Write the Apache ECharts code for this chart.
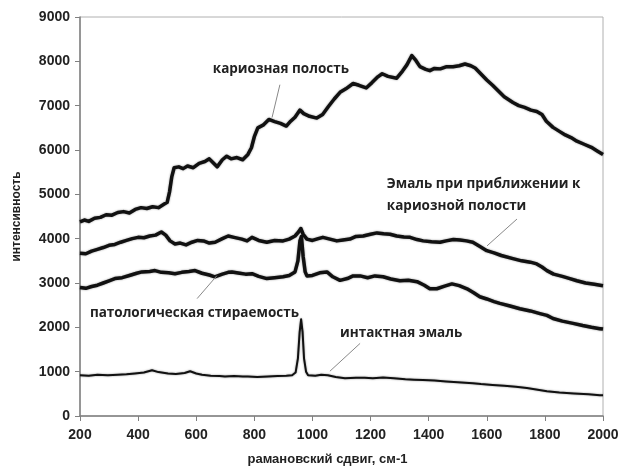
<!DOCTYPE html>
<html>
<head>
<meta charset="utf-8">
<script src="https://cdn.jsdelivr.net/npm/echarts@6/dist/echarts.min.js"></script>
<style>html,body{margin:0;padding:0;background:#fff}#c{width:624px;height:471px}</style>
</head>
<body>
<div id="c"></div>
<script>
// ---- data ----
const xTicks = [200, 400, 600, 800, 1000, 1200, 1400, 1600, 1800, 2000];
const yTicks = [0, 1000, 2000, 3000, 4000, 5000, 6000, 7000, 8000, 9000];

const cariesX = [200,215,230,250,270,290,310,330,350,370,390,410,430,450,470,490,500,508,516,524,540,555,570,590,610,630,645,660,672,690,705,720,740,760,778,790,800,812,830,850,870,890,910,925,940,957,970,990,1015,1035,1055,1075,1095,1115,1140,1160,1185,1205,1225,1240,1260,1290,1310,1325,1342,1356,1370,1390,1404,1420,1440,1462,1484,1505,1525,1545,1560,1575,1600,1620,1640,1660,1690,1710,1730,1752,1772,1790,1805,1828,1850,1870,1890,1910,1935,1960,1980,2000];
const cariesY = [4380,4420,4390,4460,4480,4540,4530,4590,4610,4580,4660,4700,4680,4720,4700,4780,4820,5050,5400,5600,5620,5580,5640,5600,5700,5740,5800,5700,5620,5780,5860,5800,5830,5780,5900,6050,6300,6500,6560,6690,6640,6600,6540,6650,6740,6900,6820,6760,6720,6800,6980,7150,7300,7380,7500,7460,7400,7520,7650,7720,7660,7620,7780,7920,8130,8020,7880,7820,7790,7840,7830,7880,7880,7900,7940,7900,7850,7750,7580,7460,7330,7200,7070,7000,6960,6900,6870,6800,6650,6510,6420,6340,6280,6200,6130,6060,5980,5900];

const nearX = [200,220,240,260,280,300,320,340,360,380,400,420,440,460,480,495,510,527,545,565,585,605,625,645,665,690,710,730,757,775,792,815,843,870,899,920,940,952,960,968,981,1000,1020,1036,1060,1084,1105,1129,1150,1175,1200,1222,1245,1267,1290,1315,1336,1360,1381,1410,1439,1460,1485,1508,1530,1552,1575,1600,1625,1650,1690,1720,1750,1772,1790,1807,1830,1860,1886,1910,1940,1970,2000];
const nearY = [3670,3660,3720,3760,3800,3850,3870,3920,3960,4000,4030,4020,4060,4080,4150,4080,3950,3880,3900,3860,3920,3960,3950,3900,3920,4000,4060,4030,3990,3950,4030,3960,3920,3960,3950,3990,4060,4150,4230,4100,3990,3960,4000,4030,3990,3950,3970,3990,4050,4060,4100,4130,4110,4100,4060,4040,4030,3980,3950,3930,3920,3950,3980,3970,3950,3920,3830,3730,3680,3620,3550,3500,3470,3430,3360,3280,3200,3150,3100,3050,3000,2970,2940];

const abrasionX = [200,220,240,260,280,300,320,345,370,395,413,440,458,480,505,527,550,575,596,620,645,664,690,710,723,750,770,792,815,843,870,899,920,940,950,957,962,968,975,981,1000,1025,1050,1070,1095,1120,1140,1164,1190,1215,1243,1270,1301,1330,1360,1385,1404,1428,1455,1480,1505,1532,1555,1576,1600,1625,1645,1680,1714,1750,1783,1807,1828,1860,1897,1930,1960,1989,2000];
const abrasionY = [2900,2880,2920,2950,3000,3050,3100,3120,3170,3220,3250,3260,3280,3240,3230,3210,3240,3260,3280,3220,3180,3140,3200,3240,3250,3220,3200,3210,3150,3100,3120,3140,3170,3250,3500,3950,4050,3600,3250,3160,3170,3230,3250,3140,3060,3100,3160,3160,3120,3160,3140,3090,3050,3060,3030,2950,2870,2870,2930,2980,2940,2870,2780,2690,2640,2580,2540,2480,2420,2370,2310,2270,2200,2140,2090,2040,2000,1970,1960];

const intactX = [200,230,260,296,330,360,389,420,448,470,503,530,560,579,600,620,650,680,699,730,760,778,810,847,880,910,930,942,950,956,961,966,971,978,985,1010,1030,1053,1080,1112,1150,1180,1208,1243,1280,1320,1350,1380,1420,1460,1500,1552,1580,1620,1660,1700,1738,1770,1807,1850,1900,1950,1989,2000];
const intactY = [920,910,930,920,930,940,960,980,1030,990,960,950,970,1010,960,930,910,900,890,900,890,890,880,890,900,910,920,980,1300,1900,2180,1900,1300,1000,920,910,930,920,880,850,860,860,850,870,850,830,820,810,800,780,760,740,720,700,680,660,630,600,560,530,510,490,470,470];

const labels = {
  caries: 'кариозная полость',
  near: ['Эмаль при приближении к', 'кариозной полости'],
  abrasion: 'патологическая стираемость',
  intact: 'интактная эмаль'
};
const xName = 'рамановский сдвиг, см-1';
const yName = 'интенсивность';

// annotation anchors in data coordinates: text anchor and leader line end points
const notes = [
  { text: labels.caries, at: [657, 7832], line: [[888, 7473], [861, 6733]] },
  { text: labels.near.join('\n'), at: [1256, 4982], line: [[1704, 4443], [1601, 3838]] },
  { text: labels.abrasion, at: [234, 2311], line: [[603, 2648], [671, 3164]] },
  { text: labels.intact, at: [1095, 1863], line: [[1164, 1638], [1060, 1010]] }
];

function pairs(xs, ys) { return xs.map((x, i) => [x, ys[i]]); }

const chart = echarts.init(document.getElementById('c'), null, { renderer: 'canvas' });
const fontAxis = '"Liberation Sans", Arial, sans-serif';
const fontNote = '"Open Sans", "Noto Sans", sans-serif';

function lineSeries(name, xs, ys, w) {
  return {
    name, type: 'line', data: pairs(xs, ys), showSymbol: false, symbol: 'none',
    lineStyle: { color: '#111', width: w, join: 'round', shadowColor: 'rgba(0,0,0,0.45)', shadowBlur: 2 },
    animation: false, z: 3
  };
}

chart.setOption({
  animation: false,
  grid: { left: 80, right: 21, top: 17, bottom: 53, show: true, borderColor: '#b0b0b0', borderWidth: 1 },
  xAxis: {
    type: 'value', min: 200, max: 2000, interval: 200,
    name: xName, nameLocation: 'middle', nameGap: 37,
    nameTextStyle: { fontFamily: fontAxis, fontWeight: 'bold', fontSize: 13, color: '#222', padding: [0, 28, 0, 0] },
    axisLine: { show: true, lineStyle: { color: '#808080', width: 1.5 } },
    axisTick: { show: true, length: 5, lineStyle: { color: '#808080' } },
    axisLabel: { fontFamily: fontAxis, fontWeight: 'bold', fontSize: 14, color: '#222', margin: 12,
      formatter: v => xTicks.includes(v) ? String(v) : '' },
    splitLine: { show: false }
  },
  yAxis: {
    type: 'value', min: 0, max: 9000, interval: 1000,
    name: yName, nameLocation: 'middle', nameGap: 57, nameRotate: 90,
    nameTextStyle: { fontFamily: fontAxis, fontWeight: 'bold', fontSize: 12, color: '#222' },
    axisLine: { show: true, lineStyle: { color: '#808080', width: 1.5 } },
    axisTick: { show: true, length: 5, lineStyle: { color: '#808080' } },
    axisLabel: { fontFamily: fontAxis, fontWeight: 'bold', fontSize: 14, color: '#222', margin: 10,
      formatter: v => yTicks.includes(v) ? String(v) : '' },
    splitLine: { show: false }
  },
  series: [
    lineSeries('кариозная полость', cariesX, cariesY, 3.5),
    lineSeries('Эмаль при приближении к кариозной полости', nearX, nearY, 3.5),
    lineSeries('патологическая стираемость', abrasionX, abrasionY, 3.5),
    lineSeries('интактная эмаль', intactX, intactY, 2)
  ]
});

const graphics = [];
notes.forEach(n => {
  const p = chart.convertToPixel({ gridIndex: 0 }, n.at);
  const a = chart.convertToPixel({ gridIndex: 0 }, n.line[0]);
  const b = chart.convertToPixel({ gridIndex: 0 }, n.line[1]);
  graphics.push({
    type: 'line', shape: { x1: a[0], y1: a[1], x2: b[0], y2: b[1] },
    style: { stroke: '#888', lineWidth: 1 }, z: 10
  });
  graphics.push({
    type: 'text', x: p[0], y: p[1],
    style: { text: n.text, fill: '#222', font: 'bold 13.5px ' + fontNote, textVerticalAlign: 'middle', lineHeight: 22 },
    z: 10
  });
});
chart.setOption({ graphic: graphics });
</script>
</body>
</html>
